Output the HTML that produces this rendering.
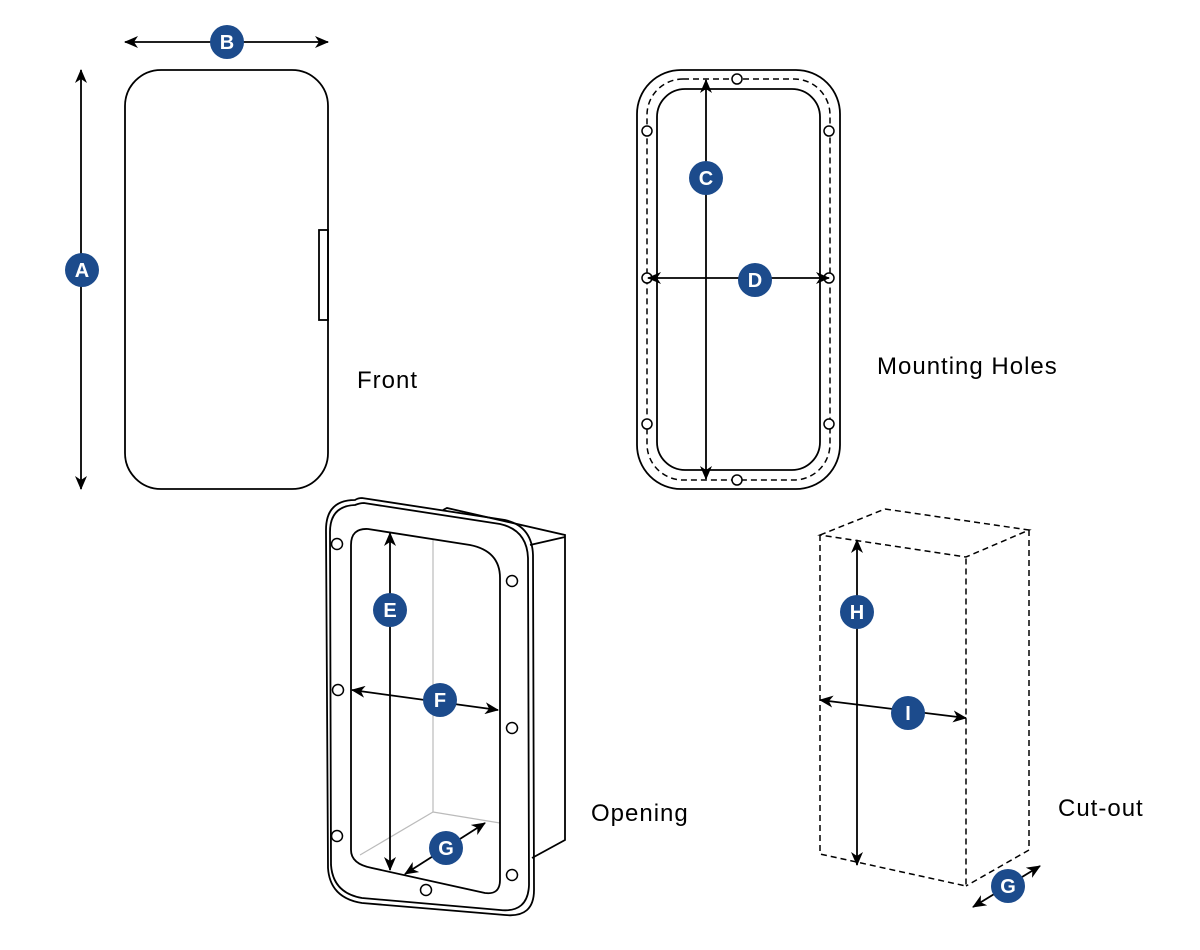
<!DOCTYPE html>
<html><head><style>html,body{margin:0;padding:0;background:#fff}svg{display:block}</style></head>
<body>
<svg width="1200" height="950" viewBox="0 0 1200 950" xmlns="http://www.w3.org/2000/svg">
<defs>
<marker id="ah" viewBox="0 0 14 12" refX="13" refY="6" markerWidth="14" markerHeight="12" markerUnits="userSpaceOnUse" orient="auto-start-reverse">
<path d="M0,0 L14,6 L0,12 L4,6 Z" fill="#000"/>
</marker>
<style>
.l{fill:none;stroke:#000;stroke-width:1.8}
.a{fill:none;stroke:#000;stroke-width:1.8;marker-start:url(#ah);marker-end:url(#ah)}
.d{fill:none;stroke:#000;stroke-width:1.5;stroke-dasharray:6 4}
.b{fill:#1c4b8c}
.t{font-family:"Liberation Sans",Arial,sans-serif;font-weight:bold;font-size:20px;fill:#fff;text-anchor:middle}
.lab{font-family:"Liberation Sans",Arial,sans-serif;font-size:24px;letter-spacing:1px;fill:#000}
.h{fill:#fff;stroke:#000;stroke-width:1.5}
</style>
</defs>

<!-- Front -->
<rect class="l" x="125" y="70" width="203" height="419" rx="36"/>
<rect class="l" x="319" y="230" width="9" height="90"/>
<line class="a" x1="81" y1="70" x2="81" y2="489"/>
<line class="a" x1="125" y1="42" x2="328" y2="42"/>
<circle class="b" cx="82" cy="270" r="17"/><text class="t" x="82" y="277">A</text>
<circle class="b" cx="227" cy="42" r="17"/><text class="t" x="227" y="49">B</text>
<text class="lab" x="357" y="388">Front</text>

<!-- Mounting holes -->
<rect class="l" x="637" y="70" width="203" height="419" rx="44"/>
<rect class="d" x="647" y="79" width="183" height="401" rx="36"/>
<rect class="l" x="657" y="89" width="163" height="381" rx="28"/>
<g>
<circle class="h" cx="737" cy="79" r="5"/><circle class="h" cx="737" cy="480" r="5"/>
<circle class="h" cx="647" cy="131" r="5"/><circle class="h" cx="829" cy="131" r="5"/>
<circle class="h" cx="647" cy="278" r="5"/><circle class="h" cx="829" cy="278" r="5"/>
<circle class="h" cx="647" cy="424" r="5"/><circle class="h" cx="829" cy="424" r="5"/>
</g>
<line class="a" x1="706" y1="80" x2="706" y2="479"/>
<line class="a" x1="648" y1="278" x2="829" y2="278"/>
<circle class="b" cx="706" cy="178" r="17"/><text class="t" x="706" y="185">C</text>
<circle class="b" cx="755" cy="280" r="17"/><text class="t" x="755" y="287">D</text>
<text class="lab" x="877" y="374">Mounting Holes</text>

<!-- Opening -->
<path class="l" d="M443,510 L447,508 L565,535 L565,840 L532,858"/>
<line class="l" x1="530" y1="545" x2="565" y2="537"/>
<path class="l" d="M355,500 Q358,498 362,498 L505,520 Q532,526 533,555 L534,890 Q534,918 505,915 L362,903 Q330,898 328,868 L326,530 Q326,500 355,500 Z"/>
<path class="l" d="M355,505 Q360,503 364,503 L500,524 Q527,530 528,558 L529,885 Q528,913 500,910 L362,898 Q333,893 331,865 L330,532 Q330,506 355,505 Z"/>
<line x1="433" y1="540" x2="433" y2="812" stroke="#bbb" stroke-width="1.2"/>
<line x1="433" y1="812" x2="360" y2="855" stroke="#bbb" stroke-width="1.2"/>
<line x1="433" y1="812" x2="500" y2="823" stroke="#bbb" stroke-width="1.2"/>
<path class="l" d="M368,529 L470,545 Q500,551 500,578 L500,880 Q500,895 485,893 L372,868 Q351,864 351,850 L351,545 Q351,528 368,529 Z"/>
<g>
<circle class="h" cx="337" cy="544" r="5.5"/><circle class="h" cx="512" cy="581" r="5.5"/>
<circle class="h" cx="338" cy="690" r="5.5"/><circle class="h" cx="512" cy="728" r="5.5"/>
<circle class="h" cx="337" cy="836" r="5.5"/><circle class="h" cx="512" cy="875" r="5.5"/>
<circle class="h" cx="426" cy="890" r="5.5"/>
</g>
<line class="a" x1="390" y1="533" x2="390" y2="870"/>
<line class="a" x1="352" y1="690" x2="498" y2="710"/>
<line class="a" x1="405" y1="874" x2="485" y2="823"/>
<circle class="b" cx="390" cy="610" r="17"/><text class="t" x="390" y="617">E</text>
<circle class="b" cx="440" cy="700" r="17"/><text class="t" x="440" y="707">F</text>
<circle class="b" cx="446" cy="848" r="17"/><text class="t" x="446" y="855">G</text>
<text class="lab" x="591" y="821">Opening</text>

<!-- Cut-out -->
<path class="d" d="M820,535 L885,509 L1029,530 L966,557 Z"/>
<path class="d" d="M820,535 L820,854 L966,886 L966,557"/>
<path class="d" d="M1029,530 L1029,850 L966,886"/>
<line class="a" x1="857" y1="540" x2="857" y2="865"/>
<line class="a" x1="820" y1="700" x2="966" y2="718"/>
<line class="a" x1="973" y1="907" x2="1040" y2="866"/>
<circle class="b" cx="857" cy="612" r="17"/><text class="t" x="857" y="619">H</text>
<circle class="b" cx="908" cy="713" r="17"/><text class="t" x="908" y="720">I</text>
<circle class="b" cx="1008" cy="886" r="17"/><text class="t" x="1008" y="893">G</text>
<text class="lab" x="1058" y="816">Cut-out</text>
</svg>
</body></html>
